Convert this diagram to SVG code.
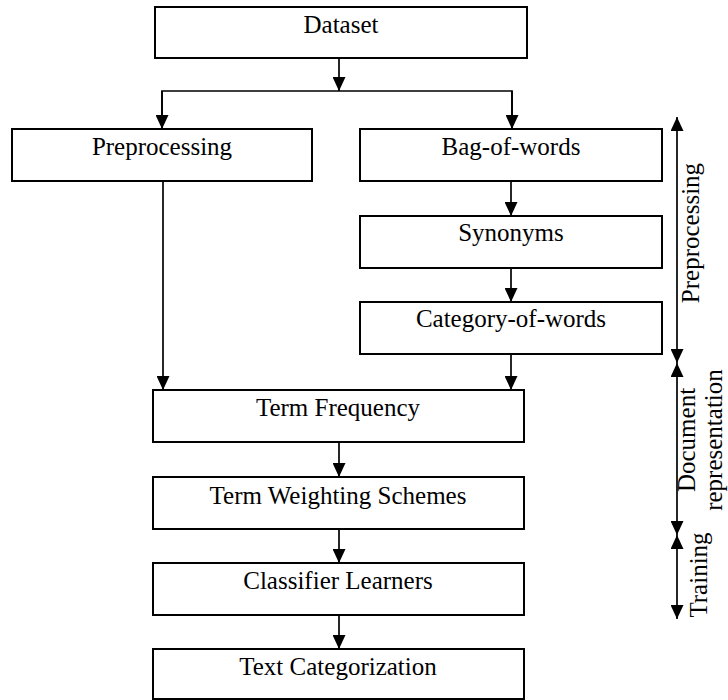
<svg xmlns="http://www.w3.org/2000/svg" width="728" height="700" viewBox="0 0 728 700">
  <style>
    .box { fill: #ffffff; stroke: #000000; stroke-width: 2; }
    .lbl { font-family: "Liberation Serif", "Times New Roman", serif; font-size: 25px; fill: #000000; text-anchor: middle; }
    .ln { fill: none; stroke: #000000; stroke-width: 1.7; }
    .arr { marker-end: url(#ah); }
    .dbl { marker-start: url(#ah); marker-end: url(#ah); }
  </style>
  <defs>
    <marker id="ah" markerUnits="userSpaceOnUse" markerWidth="14" markerHeight="13" refX="14" refY="6.5" orient="auto-start-reverse">
      <path d="M0,0 L14,6.5 L0,13 Z" fill="#000000"/>
    </marker>
  </defs>
  <rect width="728" height="700" fill="#ffffff"/>

  <g id="connectors">
    <line class="ln arr" x1="339" y1="58" x2="339" y2="91"/>
    <polyline class="ln" points="162,129 162,91 512,91 512,129" style="stroke-width:1.7"/>
    <line class="ln arr" x1="162" y1="91" x2="162" y2="129"/>
    <line class="ln arr" x1="512" y1="91" x2="512" y2="129"/>
    <line class="ln arr" x1="511" y1="181" x2="511" y2="216"/>
    <line class="ln arr" x1="511" y1="268" x2="511" y2="302"/>
    <line class="ln arr" x1="511" y1="354" x2="511" y2="390"/>
    <line class="ln arr" x1="163" y1="181" x2="163" y2="390"/>
    <line class="ln arr" x1="339" y1="442" x2="339" y2="477"/>
    <line class="ln arr" x1="339" y1="529" x2="339" y2="563"/>
    <line class="ln arr" x1="339" y1="615" x2="339" y2="649"/>
    <line class="ln dbl" x1="677" y1="117" x2="677" y2="363"/>
    <line class="ln dbl" x1="677" y1="363" x2="677" y2="535"/>
    <line class="ln dbl" x1="677" y1="535" x2="677" y2="619"/>
  </g>

  <g id="dataset">
    <rect class="box" x="155" y="7" width="372" height="51"/>
    <text class="lbl" x="341" y="33">Dataset</text>
  </g>
  <g id="preprocessing">
    <rect class="box" x="12" y="129" width="300" height="52"/>
    <text class="lbl" x="162" y="155">Preprocessing</text>
  </g>
  <g id="bag-of-words">
    <rect class="box" x="360" y="129" width="302" height="52"/>
    <text class="lbl" x="511" y="155">Bag-of-words</text>
  </g>
  <g id="synonyms">
    <rect class="box" x="360" y="216" width="302" height="52"/>
    <text class="lbl" x="511" y="241">Synonyms</text>
  </g>
  <g id="category-of-words">
    <rect class="box" x="360" y="302" width="302" height="52"/>
    <text class="lbl" x="511" y="327">Category-of-words</text>
  </g>
  <g id="term-frequency">
    <rect class="box" x="153" y="390" width="371" height="52"/>
    <text class="lbl" x="338" y="416">Term Frequency</text>
  </g>
  <g id="term-weighting">
    <rect class="box" x="153" y="477" width="371" height="52"/>
    <text class="lbl" x="338" y="504">Term Weighting Schemes</text>
  </g>
  <g id="classifier-learners">
    <rect class="box" x="153" y="563" width="371" height="52"/>
    <text class="lbl" x="338" y="589">Classifier Learners</text>
  </g>
  <g id="text-categorization">
    <rect class="box" x="153" y="649" width="371" height="50"/>
    <text class="lbl" x="338" y="675">Text Categorization</text>
  </g>

  <g id="phase-labels">
    <text class="lbl" transform="translate(699,233) rotate(-90)">Preprocessing</text>
    <text class="lbl" transform="translate(695,440) rotate(-90)">Document</text>
    <text class="lbl" transform="translate(722,440) rotate(-90)">representation</text>
    <text class="lbl" transform="translate(707,575) rotate(-90)">Training</text>
  </g>
</svg>
